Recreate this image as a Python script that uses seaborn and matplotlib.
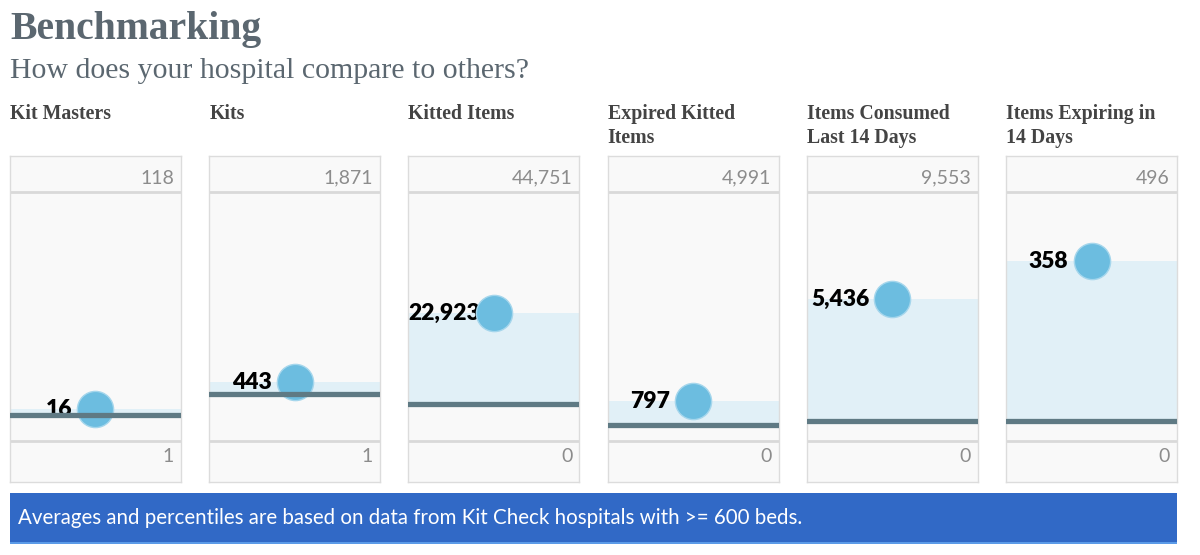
import matplotlib
matplotlib.use("Agg")
import matplotlib.pyplot as plt
import seaborn as sns
from matplotlib.patches import Rectangle

sns.set_style("white")
plt.rcParams['font.family'] = ['Lato', 'DejaVu Sans']

# data
metrics = ["Kit Masters", "Kits", "Kitted Items", "Expired Kitted\nItems",
           "Items Consumed\nLast 14 Days", "Items Expiring in\n14 Days"]
hospital = [16, 443, 22923, 797, 5436, 358]
average = [13, 353, 6650, 320, 770, 40]
scale_max = [118, 1871, 44751, 4991, 9553, 496]
scale_min = [1, 1, 0, 0, 0, 0]

W, H = 1200, 555
fig = plt.figure(figsize=(12, 5.55), dpi=100)
fig.patch.set_facecolor("white")

def fx(px):
    return px / W

def fy(py):
    return 1 - py / H

TITLE_C = "#5b6770"
serif = ["Liberation Serif", "DejaVu Serif"]
fig.text(fx(10), fy(29), "Benchmarking", family=serif, weight="bold",
         fontsize=28.5, color=TITLE_C, va="center")
fig.text(fx(10), fy(71), "How does your hospital compare to others?", family=serif,
         fontsize=21.5, color=TITLE_C, va="center")

# panel geometry in pixels
top, bottom = 156, 482
inner_top, inner_bot = 192, 441
pw = 171
labels = []
for i, name in enumerate(metrics):
    left = 10 + 199.2 * i
    fig.text(fx(left), fy(104), name, family=serif, weight="bold", fontsize=14.3,
             color="#444444", va="top", ha="left", linespacing=1.25)

    ax = fig.add_axes([fx(left), fy(bottom), fx(pw), (bottom - top) / H])
    lo, hi = scale_min[i], scale_max[i]
    u = (hi - lo) / (inner_bot - inner_top)
    ax.set_ylim(lo - (bottom - inner_bot) * u, hi + (inner_top - top) * u)
    ax.set_xlim(0, 1)
    ax.set_facecolor("#f9f9f9")
    for s in ax.spines.values():
        s.set_color("#dcdcdc")
        s.set_linewidth(1)
    ax.set_xticks([])
    ax.set_yticks([])

    ax.axhline(hi, color="#d9d9d9", lw=2, zorder=1)
    ax.axhline(lo, color="#d9d9d9", lw=2, zorder=1)
    ax.axhspan(average[i], hospital[i], color="#e1f0f7", lw=0, zorder=1)
    ax.axhline(average[i], color="#5f7a84", lw=3.8, zorder=4)
    sns.scatterplot(x=[0.5], y=[hospital[i]], s=680, color="#6cbde0",
                    edgecolor="#a5d6ec", linewidth=1, ax=ax, zorder=3, legend=False)

    ax.text(1 - 7 / pw, hi + 14 * u, f"{hi:,}", ha="right", va="center",
            fontsize=14, color="#8c8c8c", zorder=5)
    ax.text(1 - 7 / pw, lo - 15 * u, f"{lo:,}", ha="right", va="center",
            fontsize=14, color="#8c8c8c", zorder=5)
    t = ax.text(0.5 - 23 / pw, hospital[i], f"{hospital[i]:,}", ha="right", va="center",
                fontsize=16.5, weight="heavy", color="black", zorder=2)
    labels.append((t, ax, left))

# keep value labels inside their panel
fig.canvas.draw()
for t, ax, left in labels:
    bb = t.get_window_extent()
    if bb.x0 < left:
        x, y = t.get_position()
        t.set_position((x + (left - bb.x0) / pw, y))

# footer bar
fig.patches.append(Rectangle((fx(10), fy(543)), fx(1167), (543 - 493) / H,
                             transform=fig.transFigure, facecolor="#3169c6",
                             edgecolor="none", zorder=0))
fig.patches.append(Rectangle((fx(10), fy(544)), fx(1167), 2 / H,
                             transform=fig.transFigure, facecolor="#5b9be8",
                             edgecolor="none", zorder=0))
fig.text(fx(18), fy(518), "Averages and percentiles are based on data from Kit Check hospitals with >= 600 beds.",
         fontsize=14.8, color="white", va="center", ha="left")

fig.savefig("out.png", dpi=100)
